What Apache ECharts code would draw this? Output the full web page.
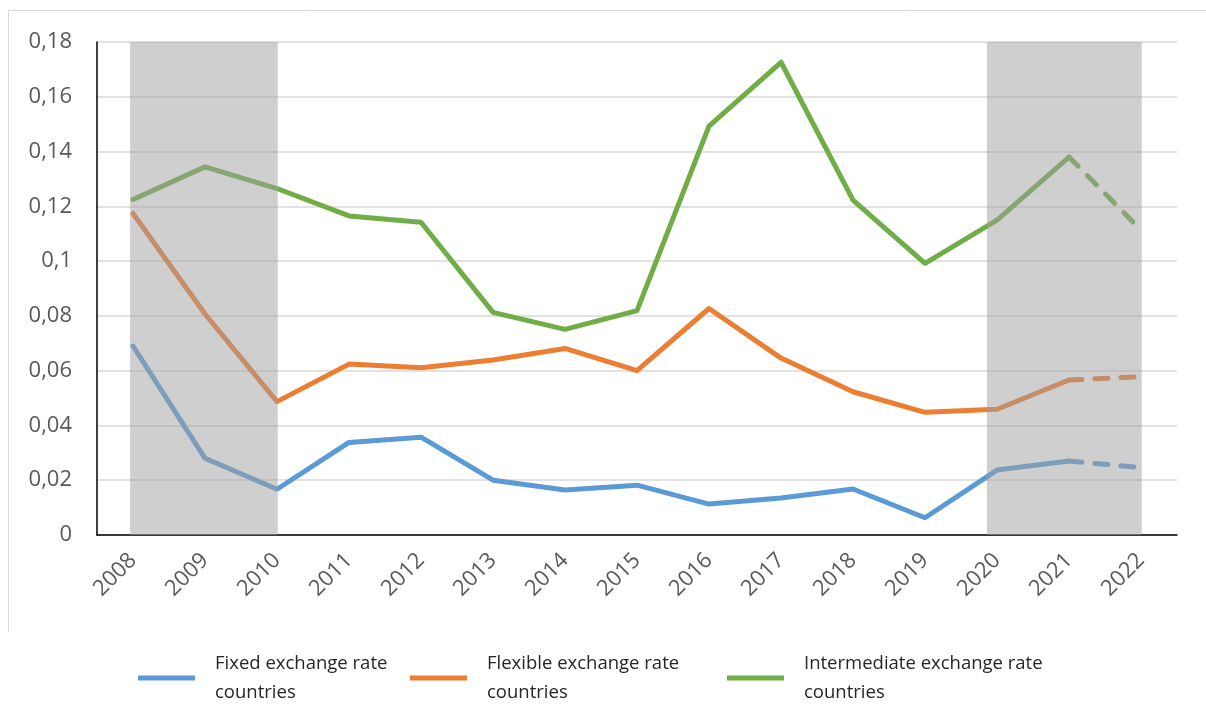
<!DOCTYPE html>
<html><head><meta charset="utf-8">
<script src="https://cdn.jsdelivr.net/npm/echarts@6/dist/echarts.min.js"></script>
<style>html,body{margin:0;padding:0;background:#fff}#c{width:1206px;height:704px}</style>
</head><body><div id="c"></div>
<script>
const years = ['2008','2009','2010','2011','2012','2013','2014','2015','2016','2017','2018','2019','2020','2021','2022'];
const fixedRate = [0.069,0.028,0.0167,0.0338,0.0357,0.020,0.0164,0.0182,0.0113,0.0135,0.0168,0.0063,0.0237,0.027,0.0246];
const flexibleRate = [0.1174,0.0807,0.0487,0.0624,0.0611,0.0639,0.0681,0.060,0.0827,0.0646,0.0523,0.0448,0.0459,0.0566,0.0578];
const intermediateRate = [0.1225,0.1344,0.1265,0.1165,0.1142,0.0813,0.0751,0.0819,0.1493,0.1726,0.1223,0.0992,0.115,0.138,0.1113];
const seriesNames = ['Fixed exchange rate countries','Flexible exchange rate countries','Intermediate exchange rate countries'];
const legendLabels = ['Fixed exchange rate\ncountries','Flexible exchange rate\ncountries','Intermediate exchange rate\ncountries'];
const colors = ['#5b9bd5','#ed7d31','#70ad47'];
const estimateFrom = 13; // dashed from 2021 to 2022
// shaded periods in category-index units
const shadeBands = [[-0.04, 2.01], [11.86, 14.01]];

const chart = echarts.init(document.getElementById('c'));
const all = [fixedRate, flexibleRate, intermediateRate];
const series = [];
all.forEach((arr, i) => {
  series.push({
    name: seriesNames[i], type: 'line', xAxisIndex: 0, yAxisIndex: 0,
    data: arr.map((v, j) => j <= estimateFrom ? v : '-'),
    symbol: 'none', z: 2,
    lineStyle: { color: colors[i], width: 5, join: 'round', cap: 'round' },
    itemStyle: { color: colors[i] }
  });
  series.push({
    name: seriesNames[i] + ' (est.)', type: 'line', xAxisIndex: 0, yAxisIndex: 0,
    data: arr.map((v, j) => j >= estimateFrom ? v : '-'),
    symbol: 'none', z: 2,
    lineStyle: { color: colors[i], width: 5, type: [13, 13], cap: 'round' }
  });
});
series.push({
  name: 'shade', type: 'line', xAxisIndex: 1, yAxisIndex: 0, data: [], z: 10,
  markArea: {
    silent: true, z: 10,
    itemStyle: { color: 'rgba(160,160,160,0.5)' },
    data: shadeBands.map(b => [{ xAxis: b[0], yAxis: 0.18 }, { xAxis: b[1], yAxis: -0.0017 }])
  }
});

const legendLefts = [133, 405, 722];
const legends = seriesNames.map((n, i) => ({
  left: legendLefts[i], top: 644, data: [n],
  icon: 'rect', itemWidth: 57, itemHeight: 5,
  formatter: () => legendLabels[i],
  selectedMode: false,
  textStyle: { fontFamily: 'Open Sans', fontSize: 18.5, color: '#262626', lineHeight: 29, padding: [0, 0, 0, 15] }
}));

chart.setOption({
  animation: false,
  color: colors,
  graphic: [
    { type: 'line', shape: { x1: 8, y1: 10.5, x2: 1206, y2: 10.5 }, style: { stroke: '#d9d9d9', lineWidth: 1 } },
    { type: 'line', shape: { x1: 8.5, y1: 10, x2: 8.5, y2: 632 }, style: { stroke: '#d9d9d9', lineWidth: 1 } }
  ],
  grid: { left: 97, right: 29, top: 42, bottom: 169 },
  legend: legends,
  xAxis: [{
    type: 'category', data: years, boundaryGap: true,
    axisLine: { show: true, onZero: false, lineStyle: { color: '#000', width: 1.5 } },
    axisTick: { show: false },
    axisLabel: { rotate: 45, fontFamily: 'Open Sans', fontSize: 22, color: '#595959', margin: 22 }
  }, {
    type: 'value', min: -0.5, max: 14.5, show: false
  }],
  yAxis: {
    type: 'value', min: 0, max: 0.18, interval: 0.02,
    axisLine: { show: true, onZero: false, lineStyle: { color: '#000', width: 1.5 } },
    axisTick: { show: false },
    splitLine: { lineStyle: { color: '#d9d9d9', width: 1.5 } },
    axisLabel: { fontFamily: 'Open Sans', fontSize: 22, color: '#595959', margin: 25,
      formatter: v => String(+v.toFixed(2)).replace('.', ',') }
  },
  series: series
});
</script></body></html>
